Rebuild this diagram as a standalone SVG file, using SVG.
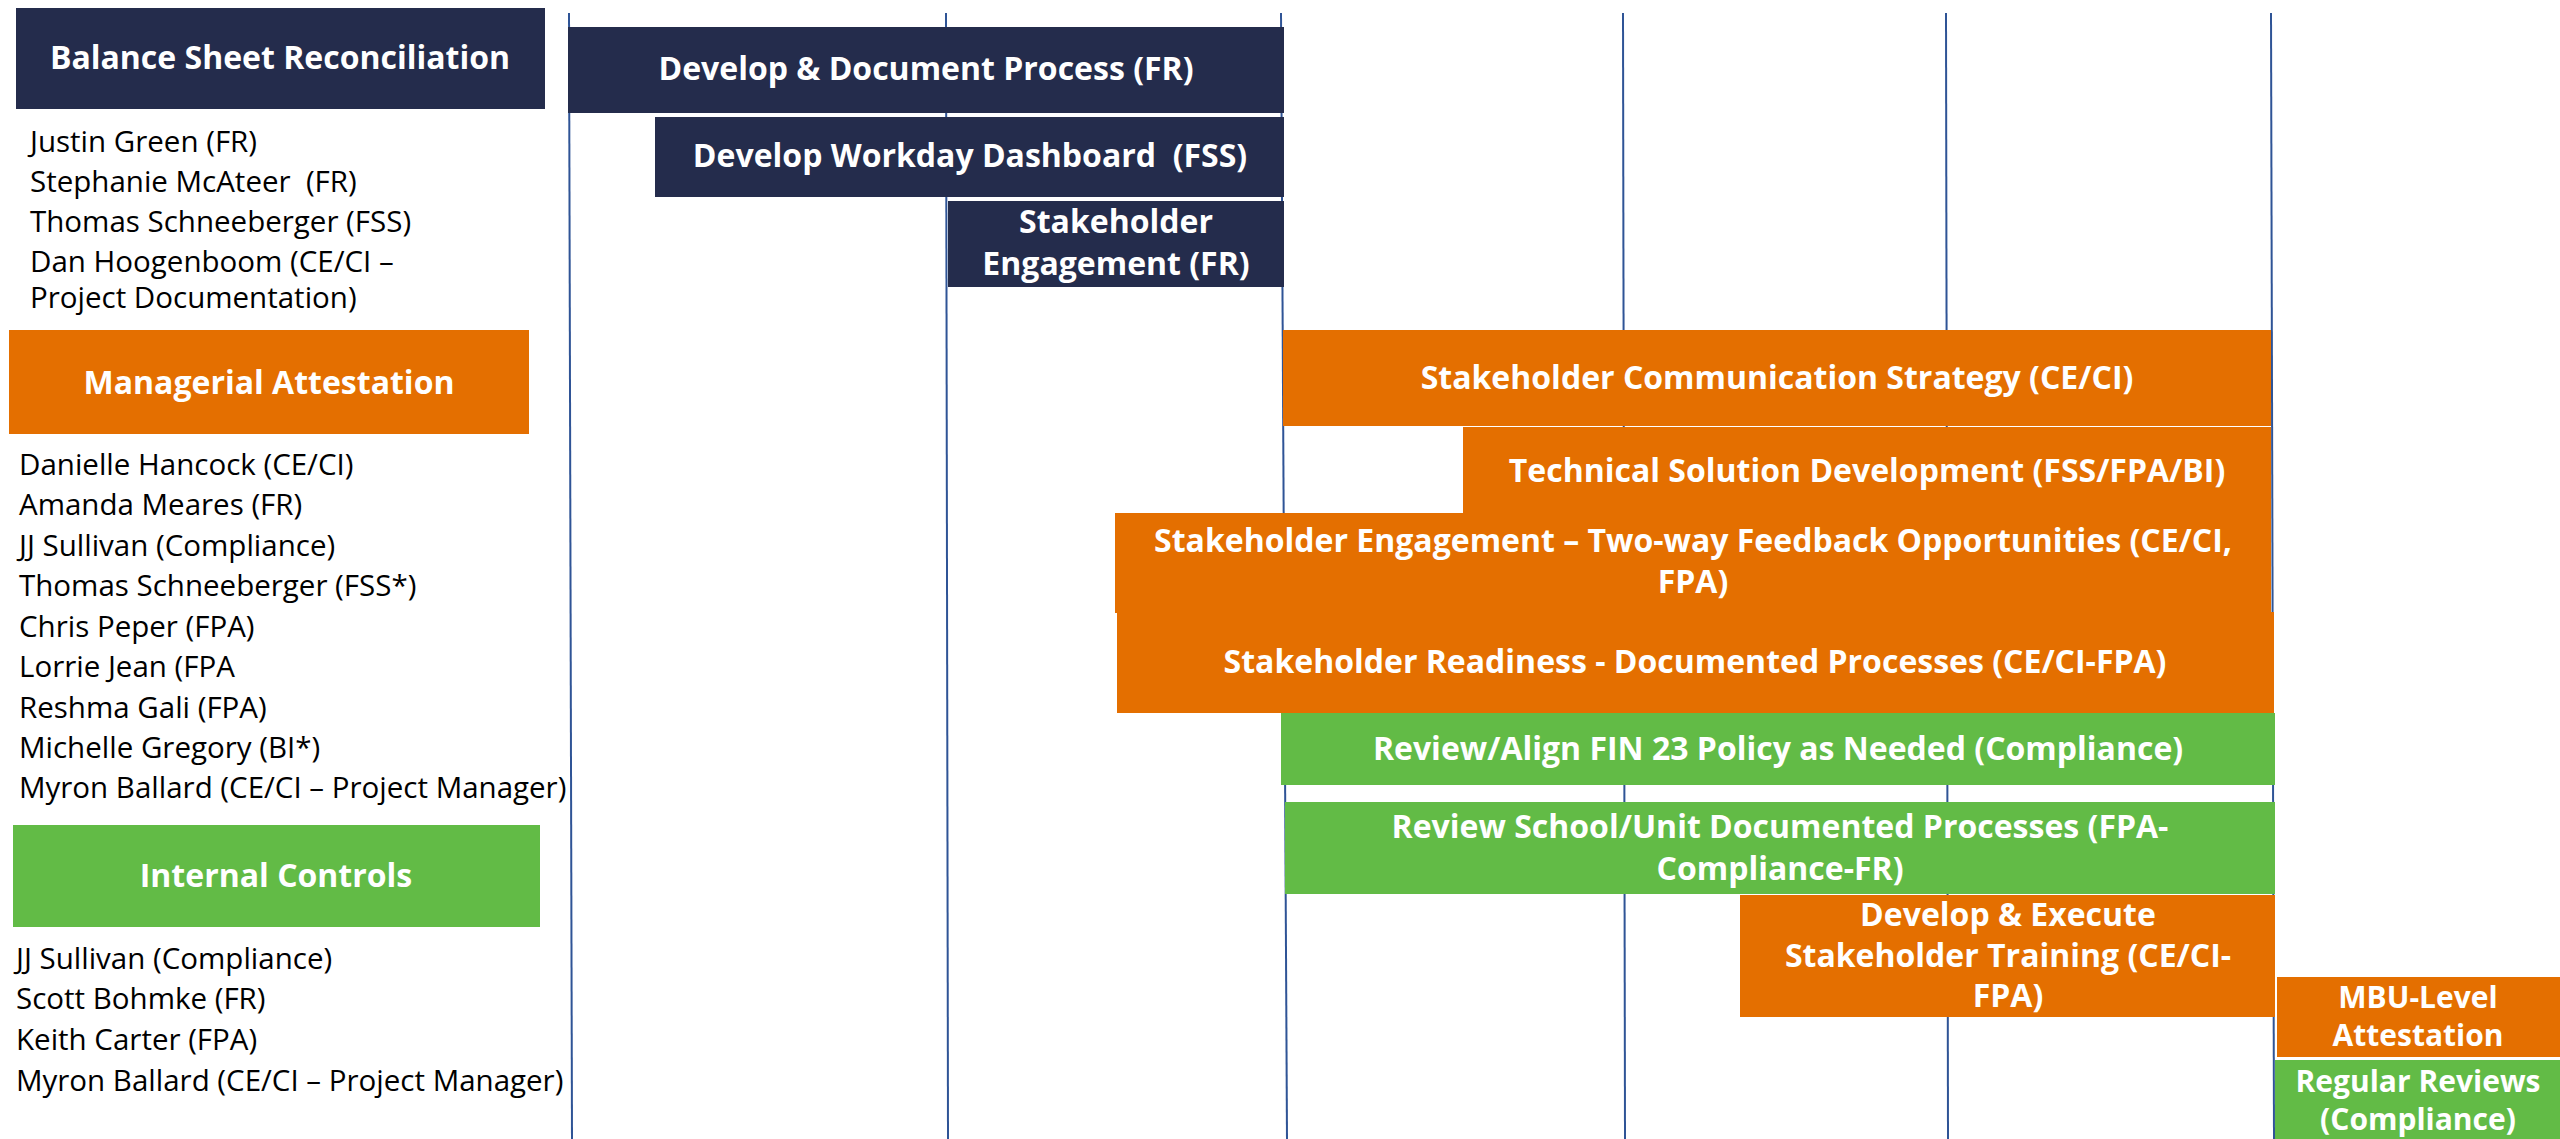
<svg xmlns="http://www.w3.org/2000/svg" width="2560" height="1139" viewBox="0 0 2560 1139">
<style>
.navy{fill:#242C4C}
.orange{fill:#E46F00}
.green{fill:#62BB46}
.lbl{font-family:"Open Sans","DejaVu Sans",sans-serif;font-weight:700;font-size:32px;fill:#FFFFFF;text-anchor:middle;white-space:pre}
.sm{font-size:30px}
.name{font-family:"Open Sans","DejaVu Sans",sans-serif;font-size:29.5px;fill:#000000}
.grid line{stroke:#2F5496;stroke-width:2}
</style>
<rect width="2560" height="1139" fill="#FFFFFF"/>
<g id="connectors" class="grid">
<line x1="569" y1="13" x2="572" y2="1139"/>
<line x1="946" y1="13" x2="948" y2="1139"/>
<line x1="1281" y1="13" x2="1287" y2="1139"/>
<line x1="1623" y1="13" x2="1625" y2="1139"/>
<line x1="1946" y1="13" x2="1948" y2="1139"/>
<line x1="2271" y1="13" x2="2274" y2="1139"/>
</g>
<g id="hdr-bsr">
<rect class="navy" x="16" y="8" width="529" height="101"/>
<text class="lbl" x="280" y="69">Balance Sheet Reconciliation</text>
</g>
<g id="names-bsr" class="name">
<text x="30" y="152">Justin Green (FR)</text>
<text x="30" y="192" style="white-space:pre">Stephanie McAteer  (FR)</text>
<text x="30" y="232">Thomas Schneeberger (FSS)</text>
<text x="30" y="272">Dan Hoogenboom (CE/CI –</text>
<text x="30" y="308">Project Documentation)</text>
</g>
<g id="hdr-ma">
<rect class="orange" x="9" y="330" width="520" height="104"/>
<text class="lbl" x="269" y="394">Managerial Attestation</text>
</g>
<g id="names-ma" class="name">
<text x="19" y="475">Danielle Hancock (CE/CI)</text>
<text x="19" y="515">Amanda Meares (FR)</text>
<text x="19" y="556">JJ Sullivan (Compliance)</text>
<text x="19" y="596">Thomas Schneeberger (FSS*)</text>
<text x="19" y="637">Chris Peper (FPA)</text>
<text x="19" y="677">Lorrie Jean (FPA</text>
<text x="19" y="718">Reshma Gali (FPA)</text>
<text x="19" y="758">Michelle Gregory (BI*)</text>
<text x="19" y="798">Myron Ballard (CE/CI – Project Manager)</text>
</g>
<g id="hdr-ic">
<rect class="green" x="13" y="825" width="527" height="102"/>
<text class="lbl" x="276" y="887">Internal Controls</text>
</g>
<g id="names-ic" class="name">
<text x="16" y="969">JJ Sullivan (Compliance)</text>
<text x="16" y="1009">Scott Bohmke (FR)</text>
<text x="16" y="1050">Keith Carter (FPA)</text>
<text x="16" y="1091">Myron Ballard (CE/CI – Project Manager)</text>
</g>
<g id="bar-ddp">
<rect class="navy" x="568" y="27" width="716" height="86"/>
<text class="lbl" x="926" y="80">Develop &amp; Document Process (FR)</text>
</g>
<g id="bar-wd">
<rect class="navy" x="655" y="117" width="629" height="80"/>
<text class="lbl" x="970" y="167">Develop Workday Dashboard  (FSS)</text>
</g>
<g id="bar-se-fr">
<rect class="navy" x="948" y="201" width="336" height="86"/>
<text class="lbl" x="1116" y="233">Stakeholder</text>
<text class="lbl" x="1116" y="275">Engagement (FR)</text>
</g>
<g id="bar-comm">
<rect class="orange" x="1283" y="330" width="988" height="96"/>
<text class="lbl" x="1777" y="389">Stakeholder Communication Strategy (CE/CI)</text>
</g>
<g id="bar-tech">
<rect class="orange" x="1463" y="427" width="808" height="87"/>
<text class="lbl" x="1867" y="482">Technical Solution Development (FSS/FPA/BI)</text>
</g>
<g id="bar-twoway">
<rect class="orange" x="1115" y="513" width="1156" height="100"/>
<text class="lbl" x="1693" y="552">Stakeholder Engagement – Two-way Feedback Opportunities (CE/CI,</text>
<text class="lbl" x="1693" y="593">FPA)</text>
</g>
<g id="bar-ready">
<rect class="orange" x="1117" y="612" width="1157" height="101"/>
<text class="lbl" x="1695" y="673">Stakeholder Readiness - Documented Processes (CE/CI-FPA)</text>
</g>
<g id="bar-fin23">
<rect class="green" x="1281" y="713" width="994" height="72"/>
<text class="lbl" x="1778" y="760">Review/Align FIN 23 Policy as Needed (Compliance)</text>
</g>
<g id="bar-school">
<rect class="green" x="1285" y="802" width="990" height="92"/>
<text class="lbl" x="1780" y="838">Review School/Unit Documented Processes (FPA-</text>
<text class="lbl" x="1780" y="880">Compliance-FR)</text>
</g>
<g id="bar-training">
<rect class="orange" x="1740" y="895" width="535" height="122"/>
<text class="lbl" x="2008" y="926">Develop &amp; Execute</text>
<text class="lbl" x="2008" y="967">Stakeholder Training (CE/CI-</text>
<text class="lbl" x="2008" y="1007">FPA)</text>
</g>
<g id="bar-mbu">
<rect class="orange" x="2277" y="977" width="283" height="80"/>
<text class="lbl sm" x="2418" y="1008">MBU-Level</text>
<text class="lbl sm" x="2418" y="1046">Attestation</text>
</g>
<g id="bar-reviews">
<rect class="green" x="2275" y="1060" width="285" height="79"/>
<text class="lbl sm" x="2418" y="1092">Regular Reviews</text>
<text class="lbl sm" x="2418" y="1130">(Compliance)</text>
</g>
</svg>
